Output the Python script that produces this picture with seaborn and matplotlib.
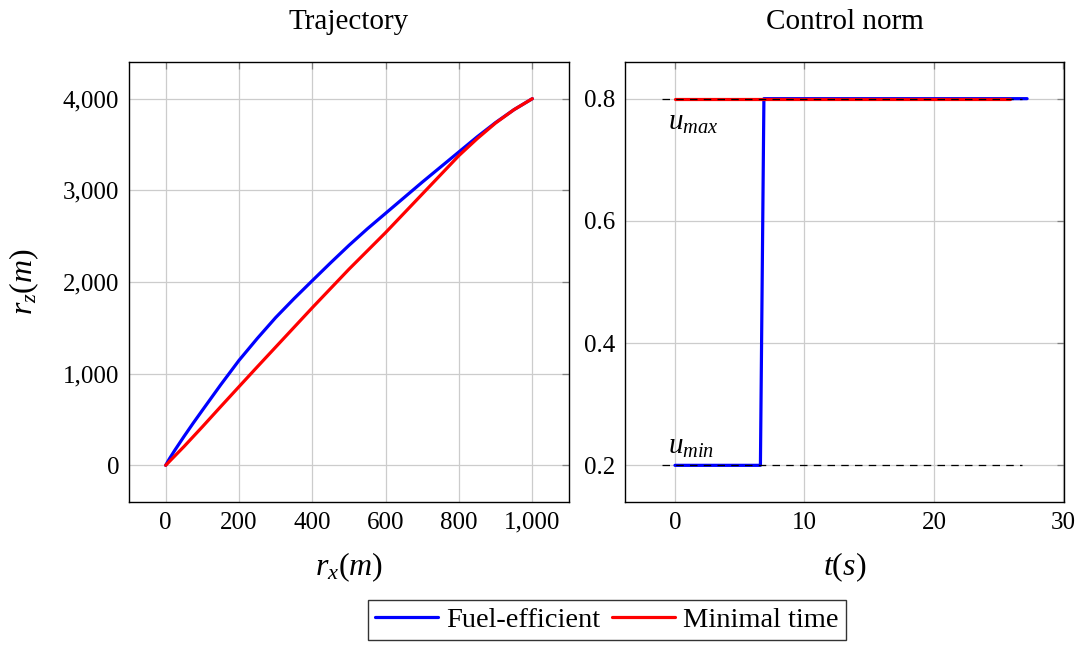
import numpy as np
import pandas as pd
import seaborn as sns
import matplotlib
matplotlib.use('Agg')
import matplotlib.pyplot as plt
from matplotlib.ticker import FuncFormatter

# Trajectory
fuel_rx = [0, 10, 25, 50, 75, 100, 150, 200, 250, 300, 350, 400, 450, 500,
           550, 600, 650, 700, 750, 800, 850, 900, 950, 1000]
fuel_rz = [0, 70, 165, 315, 460, 600, 878, 1145, 1385, 1612, 1818, 2015, 2210,
           2400, 2580, 2750, 2920, 3090, 3255, 3420, 3585, 3740, 3880, 4000]
mintime_rx = [0, 50, 100, 150, 200, 250, 300, 350, 400, 450, 500, 550, 600,
              650, 700, 750, 800, 850, 900, 950, 1000]
mintime_rz = [0, 205, 420, 640, 858, 1075, 1290, 1505, 1720, 1930, 2140, 2340,
              2540, 2750, 2960, 3170, 3380, 3565, 3735, 3880, 4000]

# Control norm
fuel_t = [0, 6.6, 6.87, 27.2]
fuel_u = [0.2, 0.2, 0.8, 0.8]
mintime_t = [0, 25.9]
mintime_u = [0.8, 0.8]
bound_t = [-1, 26.8]
u_min = 0.2
u_max = 0.8

BLUE = '#0000ff'
RED = '#ff0000'

sns.set_theme(style='white')
plt.rcParams['font.family'] = ['Liberation Serif', 'DejaVu Serif']
plt.rcParams['mathtext.fontset'] = 'custom'
plt.rcParams['mathtext.rm'] = 'Liberation Serif'
plt.rcParams['mathtext.it'] = 'Liberation Serif:italic'
plt.rcParams['font.size'] = 18
plt.rcParams['text.color'] = 'black'
plt.rcParams['axes.labelcolor'] = 'black'
plt.rcParams['xtick.labelcolor'] = 'black'
plt.rcParams['ytick.labelcolor'] = 'black'

fig = plt.figure(figsize=(10.81, 6.46), dpi=100)
ax1 = fig.add_axes([129 / 1081, 144 / 646, 440 / 1081, 440 / 646])
ax2 = fig.add_axes([625 / 1081, 144 / 646, 439 / 1081, 440 / 646])

traj = pd.concat([
    pd.DataFrame(dict(rx=fuel_rx, rz=fuel_rz, kind='Fuel-efficient')),
    pd.DataFrame(dict(rx=mintime_rx, rz=mintime_rz, kind='Minimal time')),
])
ctrl = pd.concat([
    pd.DataFrame(dict(t=fuel_t, u=fuel_u, kind='Fuel-efficient')),
    pd.DataFrame(dict(t=mintime_t, u=mintime_u, kind='Minimal time')),
])
palette = {'Fuel-efficient': BLUE, 'Minimal time': RED}

sns.lineplot(data=traj, x='rx', y='rz', hue='kind', palette=palette,
             estimator=None, sort=False, lw=2.3, ax=ax1, legend=False)
sns.lineplot(data=ctrl, x='t', y='u', hue='kind', palette=palette,
             estimator=None, sort=False, lw=2.3, ax=ax2, legend=False)
for u in (u_min, u_max):
    ax2.plot(bound_t, [u, u], color='black', lw=0.9, ls=(0, (6, 5)), zorder=3)

ax2.text(-0.55, 0.782, r'$u_{max}$', ha='left', va='top', fontsize=21)
ax2.text(-0.55, 0.208, r'$u_{min}$', ha='left', va='bottom', fontsize=21)

ax1.set_xlim(-100, 1100)
ax1.set_ylim(-400, 4400)
ax1.set_xticks(range(0, 1001, 200))
ax1.set_yticks(range(0, 4001, 1000))
thousands = FuncFormatter(lambda v, p: f'{v:,.0f}')
ax1.xaxis.set_major_formatter(thousands)
ax1.yaxis.set_major_formatter(thousands)
ax1.set_xlabel(r'$r_x(m)$', labelpad=12, fontsize=23)
ax1.set_ylabel(r'$r_z(m)$', labelpad=16, fontsize=23)
ax1.set_title('Trajectory', pad=24, fontsize=21)

ax2.set_xlim(-3.86, 30.05)
ax2.set_ylim(0.14, 0.86)
ax2.set_xticks([0, 10, 20, 30])
ax2.set_yticks([0.2, 0.4, 0.6, 0.8])
ax2.yaxis.set_major_formatter(FuncFormatter(lambda v, p: f'{v:.1f}'))
ax2.set_xlabel(r'$t(s)$', labelpad=12, fontsize=23)
ax2.set_ylabel('')
ax2.set_title('Control norm', pad=24, fontsize=21)

for ax in (ax1, ax2):
    ax.grid(True, color='#cccccc', lw=0.9)
    ax.set_axisbelow(True)
    ax.tick_params(direction='in', top=True, right=True, length=5,
                   width=0.9, color='#808080', labelcolor='black',
                   labelsize=18, pad=7)
    for s in ax.spines.values():
        s.set_color('black')
        s.set_linewidth(1.0)

handles = [plt.Line2D([], [], color=BLUE, lw=2.3),
           plt.Line2D([], [], color=RED, lw=2.3)]
leg = fig.legend(handles, ['Fuel-efficient', 'Minimal time'],
                 loc='center', bbox_to_anchor=(607 / 1081, 26 / 646), ncol=2,
                 fontsize=20.5, frameon=True, fancybox=False, handlelength=2.2,
                 handletextpad=0.3, columnspacing=0.4, borderpad=0.25)
leg.get_frame().set_edgecolor('black')
leg.get_frame().set_linewidth(1.0)

plt.savefig('out.png', dpi=100)
